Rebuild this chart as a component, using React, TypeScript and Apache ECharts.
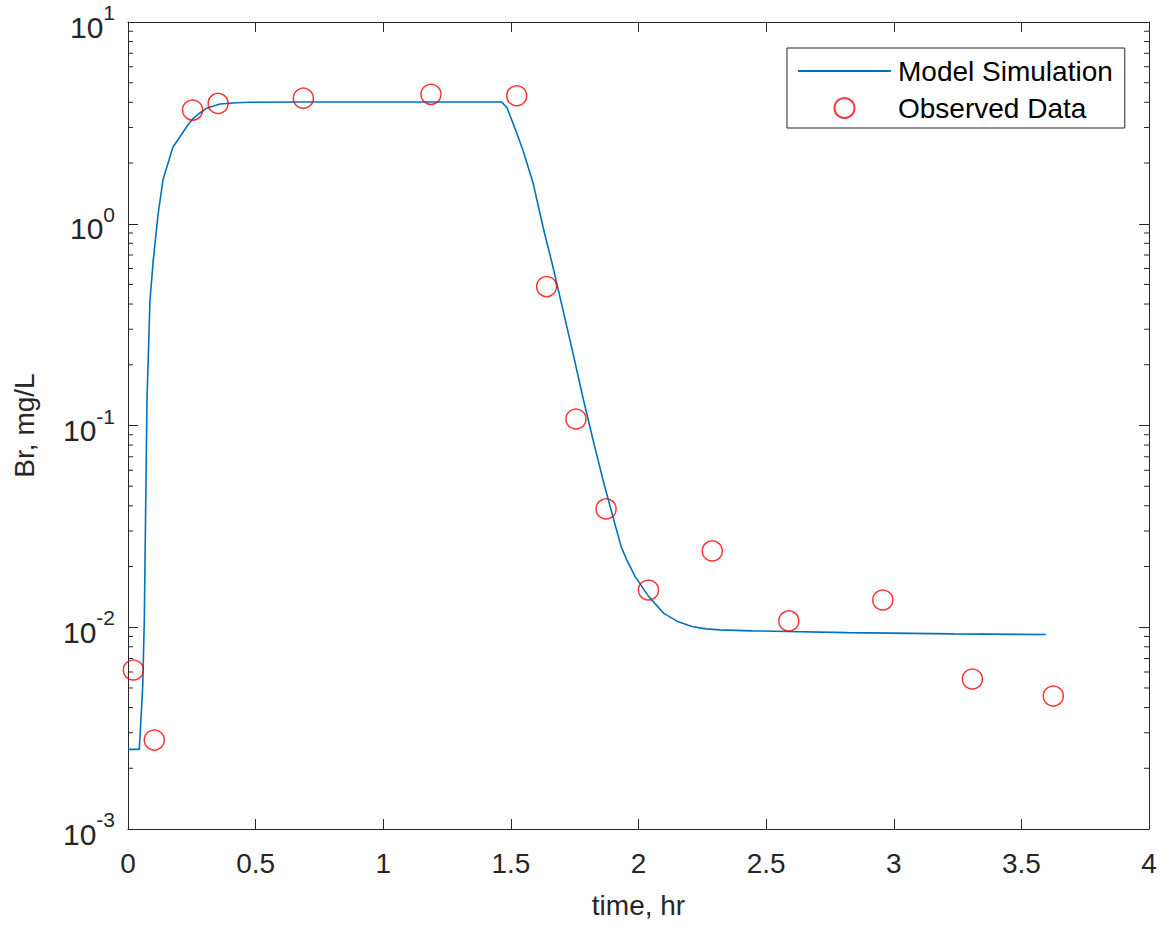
import React, { useEffect, useRef } from "react";
import * as echarts from "echarts";

// Model simulation (time, hr ; Br, mg/L)
const simTime = [0, 0.0443, 0.0576, 0.0639, 0.0744, 0.0862, 0.0991, 0.1175, 0.137, 0.1606, 0.1763, 0.2037, 0.23, 0.2558, 0.282, 0.3083, 0.36, 0.4259, 0.478, 0.674, 1.464, 1.484, 1.508, 1.527, 1.547, 1.587, 1.626, 1.665, 1.704, 1.743, 1.782, 1.822, 1.861, 1.9, 1.932, 1.954, 1.987, 2.04, 2.098, 2.154, 2.209, 2.265, 2.32, 2.445, 2.818, 3.234, 3.596];
const simBr = [0.00248, 0.00248, 0.00507, 0.01086, 0.1336, 0.419, 0.662, 1.105, 1.648, 2.07, 2.4, 2.7, 3.03, 3.33, 3.54, 3.74, 3.92, 3.98, 4.0, 4.01, 4.01, 3.78, 3.16, 2.72, 2.32, 1.593, 0.964, 0.61, 0.374, 0.229, 0.138, 0.0848, 0.0537, 0.0352, 0.0251, 0.0216, 0.01783, 0.01419, 0.01175, 0.01067, 0.01008, 0.00982, 0.00971, 0.0096, 0.00941, 0.00927, 0.0092];

// Observed data
const obsTime = [0.021, 0.103, 0.253, 0.353, 0.687, 1.187, 1.523, 1.64, 1.755, 1.873, 2.039, 2.289, 2.589, 2.957, 3.308, 3.625];
const obsBr = [0.00614, 0.00276, 3.66, 3.95, 4.19, 4.38, 4.31, 0.488, 0.1077, 0.0386, 0.0153, 0.0239, 0.01075, 0.01365, 0.00554, 0.00456];

// Axis settings
const xTickStep = 0.5;
const xRange = [0, 4];
const yRange = [0.001, 10];
const minorMultipliers = [2, 3, 4, 5, 6, 7, 8, 9];
const decades = [0.001, 0.01, 0.1, 1];

const FONT = "'Liberation Sans', Arial, sans-serif";
const AXIS_COLOR = "#262626";

export default function App() {
  const ref = useRef<HTMLDivElement>(null);

  useEffect(() => {
    if (!ref.current) return;
    const chart = echarts.init(ref.current, undefined, { renderer: "svg" });

    const minorTicks: number[][] = [];
    decades.forEach((d) => minorMultipliers.forEach((m) => minorTicks.push([0, m * d])));

    const yLabelFormatter = (v: number) => {
      const e = Math.round(Math.log10(v));
      return `{b|10}{s|${e}}`;
    };

    const option: any = {
      animation: false,
      backgroundColor: "#ffffff",
      textStyle: { fontFamily: FONT },
      grid: { left: 128, right: 22, top: 22, bottom: 105, containLabel: false },
      legend: {
        orient: "vertical",
        left: 787,
        top: 48,
        data: [
          { name: "Model Simulation", itemStyle: { opacity: 0 } },
          { name: "Observed Data" },
        ],
        itemWidth: 93,
        itemHeight: 20,
        itemGap: 9,
        padding: [9, 12, 6, 10],
        borderColor: AXIS_COLOR,
        borderWidth: 1,
        backgroundColor: "#ffffff",
        textStyle: { fontSize: 28, color: "#000000", fontFamily: FONT, padding: [0, 0, 0, 2] },
        selectedMode: false,
      },
      xAxis: [
        {
          type: "value",
          min: xRange[0],
          max: xRange[1],
          interval: xTickStep,
          position: "bottom",
          name: "time, hr",
          nameLocation: "middle",
          nameGap: 62,
          nameTextStyle: { fontSize: 28, color: AXIS_COLOR, fontFamily: FONT },
          axisLine: { show: true, onZero: false, lineStyle: { color: AXIS_COLOR, width: 1 } },
          axisTick: { show: true, inside: true, length: 10, lineStyle: { color: AXIS_COLOR } },
          axisLabel: { show: true, margin: 20, fontSize: 28, color: AXIS_COLOR, fontFamily: FONT },
          splitLine: { show: false },
        },
        {
          type: "value",
          min: xRange[0],
          max: xRange[1],
          interval: xTickStep,
          position: "top",
          axisLine: { show: true, onZero: false, lineStyle: { color: AXIS_COLOR, width: 1 } },
          axisTick: { show: true, inside: true, length: 10, lineStyle: { color: AXIS_COLOR } },
          axisLabel: { show: false },
          splitLine: { show: false },
        },
      ],
      yAxis: [
        {
          type: "log",
          logBase: 10,
          min: yRange[0],
          max: yRange[1],
          interval: 1,
          position: "left",
          name: "Br, mg/L",
          nameLocation: "middle",
          nameGap: 90,
          nameRotate: 90,
          nameTextStyle: { fontSize: 28, color: AXIS_COLOR, fontFamily: FONT },
          axisLine: { show: true, onZero: false, lineStyle: { color: AXIS_COLOR, width: 1 } },
          axisTick: { show: true, inside: true, length: 10, lineStyle: { color: AXIS_COLOR } },
          axisLabel: {
            show: true,
            margin: 13,
            formatter: yLabelFormatter,
            rich: {
              b: { fontSize: 30, color: AXIS_COLOR, fontFamily: FONT, lineHeight: 40, verticalAlign: "bottom" },
              s: { fontSize: 21, color: AXIS_COLOR, fontFamily: FONT, lineHeight: 21, verticalAlign: "top" },
            },
          },
          splitLine: { show: false },
        },
        {
          type: "log",
          logBase: 10,
          min: yRange[0],
          max: yRange[1],
          interval: 1,
          position: "right",
          axisLine: { show: true, onZero: false, lineStyle: { color: AXIS_COLOR, width: 1 } },
          axisTick: { show: true, inside: true, length: 10, lineStyle: { color: AXIS_COLOR } },
          axisLabel: { show: false },
          splitLine: { show: false },
        },
      ],
      series: [
        {
          type: "custom",
          name: "minorTicks",
          xAxisIndex: 0,
          yAxisIndex: 0,
          silent: true,
          data: minorTicks,
          renderItem: (params: any, api: any) => {
            const cs = params.coordSys;
            const y = api.coord([0, api.value(1)])[1];
            const style = { stroke: AXIS_COLOR, lineWidth: 1 };
            return {
              type: "group",
              children: [
                { type: "line", shape: { x1: cs.x, y1: y, x2: cs.x + 5, y2: y }, style },
                { type: "line", shape: { x1: cs.x + cs.width - 5, y1: y, x2: cs.x + cs.width, y2: y }, style },
              ],
            };
          },
          z: 1,
        },
        {
          type: "line",
          name: "Model Simulation",
          xAxisIndex: 0,
          yAxisIndex: 0,
          data: simTime.map((t, i) => [t, simBr[i]]),
          symbol: "none",
          smooth: false,
          lineStyle: { color: "#0072BD", width: 1.6 },
          itemStyle: { color: "#0072BD" },
          z: 3,
        },
        {
          type: "scatter",
          name: "Observed Data",
          xAxisIndex: 0,
          yAxisIndex: 0,
          data: obsTime.map((t, i) => [t, obsBr[i]]),
          symbol: "circle",
          symbolSize: 20,
          itemStyle: { color: "rgba(255,255,255,0)", borderColor: "#FF0000", borderWidth: 1.5 },
          z: 4,
        },
      ],
    };

    chart.setOption(option);
    return () => chart.dispose();
  }, []);

  return (
    <div
      ref={ref}
      style={{ position: "fixed", left: 0, top: 0, width: 1171, height: 934, background: "#ffffff" }}
    />
  );
}
